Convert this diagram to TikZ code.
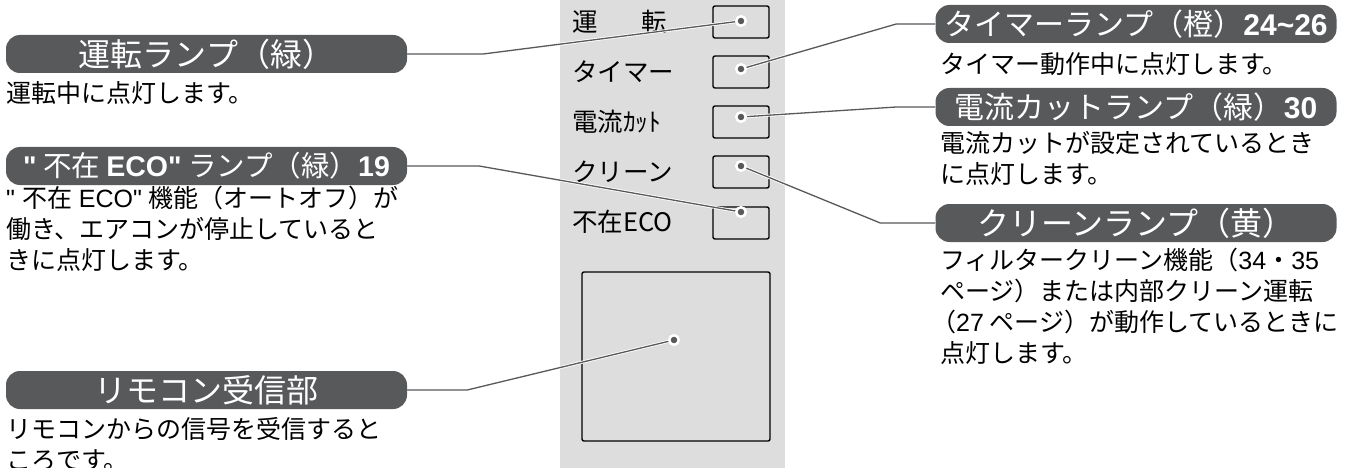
\documentclass[tikz,border=0pt]{standalone}
\usepackage{fontspec}
\setmainfont{Noto Sans CJK JP}
\newfontfamily\arialfont{Liberation Sans}
\usetikzlibrary{positioning}
\definecolor{badgegray}{HTML}{58595B}
\definecolor{panelgray}{HTML}{DDDDDD}
\newcommand{\nb}[1]{{\arialfont\bfseries #1}}
\newcommand{\nd}[1]{{\arialfont #1}}
\tikzstyle{every node}+=[inner sep=0pt]
\tikzstyle{badge} = [rectangle, fill=badgegray, text=white, rounded corners=14pt, minimum height=38pt, minimum width=401pt, font=\fontsize{32}{32}\selectfont]
\tikzstyle{desc} = [anchor=north west, align=left, font=\fontsize{25}{31}\selectfont]
\tikzstyle{lamp} = [rectangle, draw=black, line width=1.4pt, rounded corners=2pt, minimum width=56pt, minimum height=32pt]
\tikzstyle{lampname} = [anchor=west, font=\fontsize{25.5}{25.5}\selectfont]
\tikzstyle{line} = [draw=badgegray, line width=1.3pt, preaction={draw=white, line width=3pt}]
\tikzstyle{dot} = [circle, fill=badgegray, draw=white, line width=2.5pt, minimum size=9.5pt]

\begin{document}
\begin{tikzpicture}[x=1pt, y=-1pt]
            \useasboundingbox (0,0) rectangle (1349,468);
            % Panel
            \fill [panelgray] (560,0) rectangle (785,468);
            \node [lampname] (n0) at (572,22) {運\hspace{44pt}転};
            \node [lampname] (n1) at (572,72) {タイマー};
            \node [lampname] (n2) at (572,122) {電流ｶｯﾄ};
            \node [lampname] (n3) at (572,172) {クリーン};
            \node [lampname] (n4) at (572,222) {不在ECO};
            \node [lamp] (l0) at (741,22) {};
            \node [lamp] (l1) at (741,72) {};
            \node [lamp] (l2) at (741,122) {};
            \node [lamp] (l3) at (741,172) {};
            \node [lamp] (l4) at (741,223) {};
            \node [lamp, minimum width=188pt, minimum height=169pt] (rx) at (676,356.5) {};
            \coordinate (d0) at (741,21);
            \coordinate (d1) at (741,69);
            \coordinate (d2) at (741,117);
            \coordinate (d3) at (741,166);
            \coordinate (d4) at (741,212);
            \coordinate (drx) at (674,340);
            % Place labels
            \node [badge] (b0) at (206.5,54) {運転ランプ（緑）};
            \node [desc] (t0) at (6,81) {運転中に点灯します。};
            \node [badge, font=\fontsize{28.5}{28.5}\selectfont] (b4) at (206.5,166) {\nb{"} 不在 \nb{ECO"} ランプ（緑）\nb{19}};
            \node [desc] (t4) at (6,186) {\nd{" }不在\nd{ ECO" }機能（オートオフ）が\\働き、エアコンが停止していると\\きに点灯します。};
            \node [badge] (brx) at (206.5,390) {リモコン受信部};
            \node [desc] (trx) at (6,417) {リモコンからの信号を受信すると\\ころです。};
            \node [badge, font=\fontsize{30}{30}\selectfont] (b1) at (1136,24) {タイマーランプ（橙）\nb{24\textasciitilde26}};
            \node [desc] (t1) at (940,52) {タイマー動作中に点灯します。};
            \node [badge, font=\fontsize{30}{30}\selectfont] (b2) at (1136,107) {電流カットランプ（緑）\nb{30}};
            \node [desc] (t2) at (940,131) {電流カットが設定されているとき\\に点灯します。};
            \node [badge] (b3) at (1136,223) {クリーンランプ（黄）};
            \node [desc] (t3) at (940,248) {フィルタークリーン機能（\nd{34}・\nd{35}\\ページ）または内部クリーン運転\\\hspace{-9pt}（\nd{27} ページ）が動作しているときに\\点灯します。};
            % Draw edges
            \path [line] (b0.east) -- ++(76,0) -- (d0);
            \path [line] (b4.east) -- ++(72,0) -- (d4);
            \path [line] (brx.east) -- ++(60,0) -- (drx);
            \path [line] (b1.west) -- ++(-39,0) -- (d1);
            \path [line] (b2.west) -- ++(-39,0) -- (d2);
            \path [line] (b3.west) -- ++(-55,0) -- (d3);
            \foreach \d in {d0,d1,d2,d3,d4,drx}
              \node [dot] at (\d) {};
          \end{tikzpicture}
\end{document}
